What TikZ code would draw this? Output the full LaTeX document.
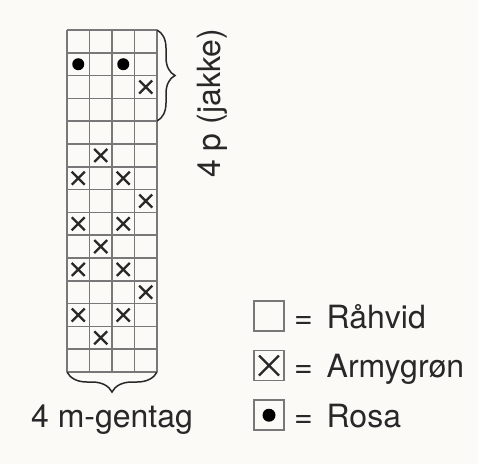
\documentclass[tikz,border=0pt]{standalone}
\usepackage{fontspec}
\setmainfont{TeX Gyre Heros}
\usetikzlibrary{decorations.pathreplacing, positioning}
\usepackage{xcolor}
\definecolor{cPaper}{RGB}{252, 250, 247}
\definecolor{bGrid}{RGB}{120, 120, 120}
\definecolor{tDark}{RGB}{40, 40, 40}

\begin{document}
\begin{tikzpicture}[
    x=1pt, y=-1pt,
    font=\fontsize{32}{36}\selectfont,
    text=tDark,
    node distance=18pt,
    gridline/.style={draw=bGrid, line width=1.5pt},
    xmark/.style={draw=tDark, line width=2.3pt},
    dotmark/.style={fill=black},
    legbox/.style={draw=bGrid, line width=1.6pt, minimum size=30pt, inner sep=0pt},
    bracebar/.style={draw=tDark, line width=1.5pt, decorate,
        decoration={brace, amplitude=#1}},
    txt/.style={inner sep=0pt}
]

\fill[cPaper] (0,0) rectangle (478,464);

% chart: 4 stitches x 15 rows
\foreach \c in {0,...,4}
    \draw[gridline] (67+\c*22.5, 30) -- (67+\c*22.5, 372);
\foreach \r in {0,...,15}
    \draw[gridline] (67, 30+\r*22.8) -- (157, 30+\r*22.8);

\foreach \c/\r in {4/3, 2/6, 1/7, 3/7, 4/8, 1/9, 3/9, 2/10, 1/11, 3/11, 4/12, 1/13, 3/13, 2/14}
    \draw[xmark] (67+\c*22.5-11.25-6.5, 30+\r*22.8-11.4-6.5) -- ++(13,13)
                 ++(0,-13) -- ++(-13,13);
\foreach \c/\r in {1/2, 3/2}
    \fill[dotmark] (67+\c*22.5-11.25, 30+\r*22.8-11.4) circle (6pt);

% braces
\coordinate (rTop) at (157, 30);
\coordinate (rBot) at (157, 121);
\coordinate (bRight) at (157, 372);
\coordinate (bLeft) at (67, 372);
\draw[bracebar=18pt] (rTop) -- (rBot);
\draw[bracebar=20pt] (bRight) -- (bLeft);

\node[txt, rotate=90] (rows) at (212, 103.5) {4 p (jakke)};
\node[txt, anchor=base] (repeat) at (112, 427) {4 m-gentag};

% legend
\node[legbox] (legWhite) at (269, 316) {};
\node[legbox, below=of legWhite] (legGreen) {};
\node[legbox, below=of legGreen] (legPink) {};

\draw[xmark] ([shift={(-10,-10)}]legGreen.center) -- ++(20,20)
             ++(0,-20) -- ++(-20,20);
\fill[dotmark] (legPink.center) circle (6.5pt);

\node[txt, anchor=base west, xshift=9pt, yshift=-12pt] (txtWhite) at (legWhite.east) {=\hspace{14pt}Råhvid};
\node[txt, anchor=base west, xshift=9pt, yshift=-12pt] (txtGreen) at (legGreen.east) {=\hspace{14pt}Armygrøn};
\node[txt, anchor=base west, xshift=9pt, yshift=-12pt] (txtPink) at (legPink.east) {=\hspace{14pt}Rosa};

\end{tikzpicture}
\end{document}
